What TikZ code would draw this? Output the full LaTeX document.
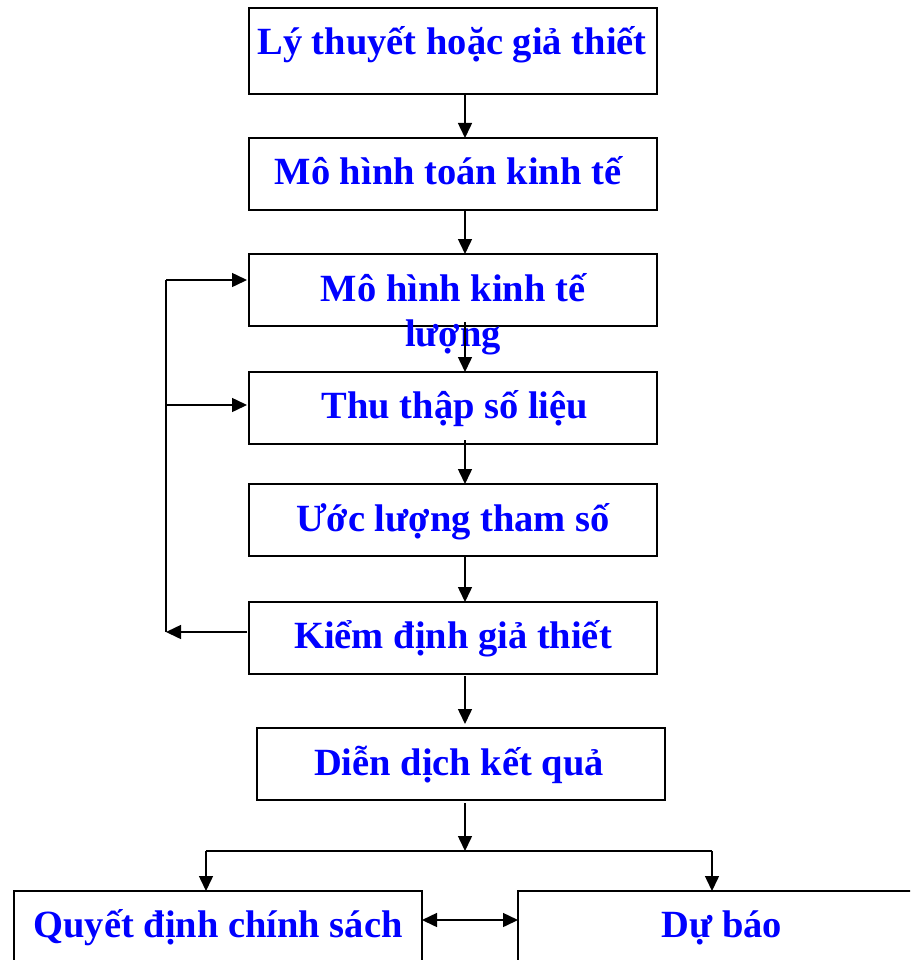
\documentclass[tikz,border=0pt]{standalone}
\usepackage{fontspec}
\setmainfont{Liberation Serif}
\usetikzlibrary{arrows.meta}
\begin{document}
\begin{tikzpicture}[x=1pt,y=1pt,
  box/.style={draw=black,line width=1.6pt,minimum width=408pt,inner sep=0pt,outer sep=0pt},
  txt/.style={anchor=base,text=blue,font=\fontsize{38.5}{44}\selectfont\bfseries,inner sep=0pt},
  conn/.style={line width=1.5pt},
  arr/.style={conn,-{Triangle[length=15pt,width=14pt]}},
  darr/.style={conn,{Triangle[length=15pt,width=14pt]}-{Triangle[length=15pt,width=14pt]}}]
\useasboundingbox (0,0) rectangle (910,-960);
\clip (0,0) rectangle (910,-960);
% boxes
\node[box,minimum height=86pt] (b1) at (453,-51) {};
\node[box,minimum height=72pt] (b2) at (453,-174) {};
\node[box,minimum height=72pt] (b3) at (453,-290) {};
\node[box,minimum height=72pt] (b4) at (453,-408) {};
\node[box,minimum height=72pt] (b5) at (453,-520) {};
\node[box,minimum height=72pt] (b6) at (453,-638) {};
\node[box,minimum height=72pt] (b7) at (461,-764) {};
\node[box,minimum height=110pt] (b8) at (218,-946) {};
\node[box,minimum height=110pt] (b9) at (722,-946) {};
% texts
\node[txt] (t1) at (452,-55) {Lý thuyết hoặc giả thiết};
\node[txt] (t2) at (448,-184) {Mô hình toán kinh tế};
\node[txt] (t3a) at (453,-301) {Mô hình kinh tế};
\node[txt] (t3b) at (453,-346) {lượng};
\node[txt] (t4) at (455,-418) {Thu thập số liệu};
\node[txt] (t5) at (453,-531) {Ước lượng tham số};
\node[txt] (t6) at (453,-648) {Kiểm định giả thiết};
\node[txt] (t7) at (459,-775) {Diễn dịch kết quả};
\node[txt] (t8) at (218,-937) {Quyết định chính sách};
\node[txt] (t9) at (722,-937) {Dự báo};
% main chain
\draw[arr] ([xshift=12pt]b1.south) -- ([xshift=12pt]b2.north);
\draw[arr] ([xshift=12pt]b2.south) -- ([xshift=12pt]b3.north);
\draw[arr] ([xshift=12pt,yshift=4pt]b3.south) -- ([xshift=12pt]b4.north);
\draw[arr] ([xshift=12pt,yshift=4pt]b4.south) -- ([xshift=12pt]b5.north);
\draw[arr] ([xshift=12pt]b5.south) -- ([xshift=12pt]b6.north);
\draw[arr] ([xshift=12pt,yshift=-2pt]b6.south) -- ([xshift=4pt,yshift=4pt]b7.north);
% split
\coordinate (s) at (465,-851);
\coordinate (sl) at (206,-851);
\coordinate (sr) at (712,-851);
\draw[arr] ([xshift=4pt,yshift=-3pt]b7.south) -- (s);
\draw[conn] (sl) -- (sr);
\draw[arr] (sl) -- (sl |- b8.north);
\draw[arr] (sr) -- (sr |- b9.north);
\draw[darr] ([yshift=-29pt]b8.north east) -- ([yshift=-29pt]b9.north west);
% feedback
\coordinate (fb) at (166,-632);
\coordinate (fm) at (166,-405);
\coordinate (ft) at (166,-280);
\draw[arr] ([xshift=-2pt,yshift=6pt]b6.west) -- (fb);
\draw[conn] (fb) -- (ft);
\draw[arr] (ft) -- ([xshift=-2pt,yshift=10pt]b3.west);
\draw[arr] (fm) -- ([xshift=-2pt,yshift=3pt]b4.west);
\end{tikzpicture}
\end{document}
